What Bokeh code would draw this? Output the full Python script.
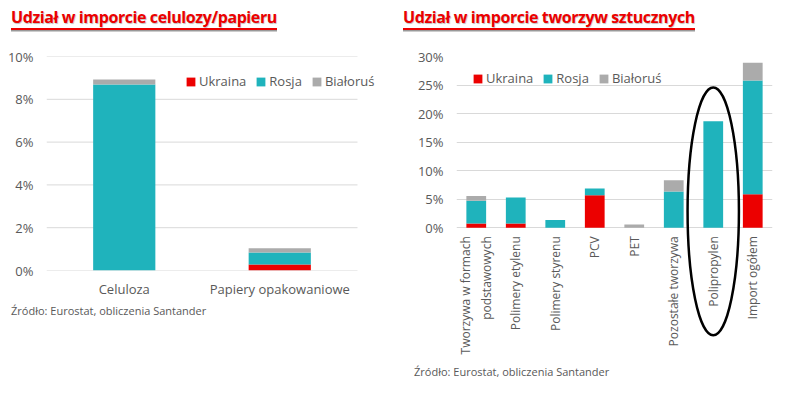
import math
from bokeh.plotting import figure
from bokeh.models import Range1d, FactorRange, FixedTicker, PrintfTickFormatter, Div
from bokeh.layouts import row, column
from bokeh.embed import file_html
from bokeh.resources import INLINE
from bokeh.core.properties import value

FONT = "Open Sans"
RED = "#EC0000"
TEAL = "#1FB3BC"
GRAY = "#ABABAB"
TXT = "#595959"
GRID = "#D9D9D9"

countries = ["Ukraina", "Rosja", "Białoruś"]
colors = [RED, TEAL, GRAY]

# ---- left panel: pulp / paper (share of imports, %) ----
paper_title = "Udział w imporcie celulozy/papieru"
paper_cats = ["Celuloza", "Papiery opakowaniowe"]
paper_ukraina = [0.0, 0.28]
paper_rosja = [8.69, 0.56]
paper_bialorus = [0.24, 0.20]
paper_ticks = [0, 2, 4, 6, 8, 10]

# ---- right panel: plastics (share of imports, %) ----
plastic_title = "Udział w imporcie tworzyw sztucznych"
plastic_cats = ["Tworzywa w formach podstawowych", "Polimery etylenu", "Polimery styrenu",
                "PCV", "PET", "Pozostałe tworzywa", "Polipropylen", "Import ogółem"]
plastic_labels = ["Tworzywa w formach\npodstawowych", "Polimery etylenu", "Polimery styrenu",
                  "PCV", "PET", "Pozostałe tworzywa", "Polipropylen", "Import ogółem"]
plastic_ukraina = [0.75, 0.75, 0.0, 5.70, 0.0, 0.0, 0.0, 5.85]
plastic_rosja = [3.95, 4.55, 1.35, 1.15, 0.0, 6.35, 18.65, 19.95]
plastic_bialorus = [0.85, 0.0, 0.0, 0.0, 0.55, 1.95, 0.0, 3.10]
plastic_ticks = [0, 5, 10, 15, 20, 25, 30]
highlight_cat = "Polipropylen"

source_text = "Źródło: Eurostat, obliczenia Santander"


def style_common(p, ticks):
    p.outline_line_color = None
    p.xgrid.visible = False
    p.yaxis.ticker = FixedTicker(ticks=ticks)
    p.yaxis.formatter = PrintfTickFormatter(format="%d%%")
    p.yaxis.axis_line_color = None
    p.yaxis.major_tick_line_color = None
    p.yaxis.minor_tick_line_color = None
    p.yaxis.major_tick_out = 0
    p.yaxis.major_tick_in = 0
    p.yaxis.major_label_text_font = FONT
    p.yaxis.major_label_text_font_size = "13px"
    p.yaxis.major_label_text_color = TXT
    p.yaxis.major_label_standoff = 13
    p.background_fill_color = "white"
    p.border_fill_color = "white"


def style_legend(p, loc):
    leg = p.legend[0]
    leg.location = loc
    leg.orientation = "horizontal"
    leg.background_fill_alpha = 0
    leg.border_line_color = None
    leg.label_text_font = FONT
    leg.label_text_font_size = "13px"
    leg.label_text_color = TXT
    leg.glyph_width = 11
    leg.glyph_height = 11
    leg.label_standoff = 3
    leg.spacing = 9
    leg.padding = 0
    leg.margin = 0


def title_div(text, left, top, width, height):
    html = ('<div style="position:absolute;left:%dpx;top:%dpx;'
            'font-family:\'Open Sans\';font-size:16px;line-height:16px;font-weight:700;'
            'letter-spacing:-0.4px;white-space:nowrap;color:%s;">'
            '<span style="border-bottom:2px solid %s;box-shadow:0 1.5px 0 #999999;'
            'text-shadow:0.6px 0.6px 0.8px rgba(0,0,0,0.25);">%s</span></div>'
            % (left, top, RED, RED, text))
    return Div(text=html, width=width, height=height, margin=0,
               styles={"position": "relative", "overflow": "visible"})


def source_div(left, top, width, height):
    html = ('<div style="position:absolute;left:%dpx;top:%dpx;font-family:\'Open Sans\';'
            'font-size:11px;line-height:14px;color:%s;white-space:nowrap;">%s</div>'
            % (left, top, TXT, source_text))
    return Div(text=html, width=width, height=height, margin=0,
               styles={"position": "relative", "overflow": "visible"})


# ---------------- left figure ----------------
# numeric x positions (one slot per category) so the frame can extend under the legend
paper_x = [i + 0.5 for i in range(len(paper_cats))]
slot_px = 155.5
frame_w1 = 329
left_w = 389
p1 = figure(x_range=Range1d(0, frame_w1 / slot_px), y_range=Range1d(0, 10),
            frame_width=frame_w1, frame_height=214,
            min_border_left=46, min_border_right=left_w - 46 - frame_w1, min_border_top=9,
            min_border_bottom=34,
            output_backend="svg", toolbar_location=None)
style_common(p1, paper_ticks)
p1.ygrid.visible = False
# gridlines limited to the category slots
p1.segment(x0=[0] * len(paper_ticks), x1=[len(paper_cats)] * len(paper_ticks),
           y0=paper_ticks, y1=paper_ticks, line_color=GRID, line_width=1)
src1 = dict(x=paper_x, Ukraina=paper_ukraina, Rosja=paper_rosja, **{"Białoruś": paper_bialorus})
p1.vbar_stack(countries, x="x", width=0.4, color=colors, line_color=None,
              source=src1, legend_label=countries)
p1.xaxis.ticker = FixedTicker(ticks=paper_x)
p1.xaxis.major_label_overrides = {x: c for x, c in zip(paper_x, paper_cats)}
p1.xaxis.axis_line_color = None
p1.xaxis.major_tick_line_color = None
p1.xaxis.minor_tick_line_color = None
p1.xaxis.major_tick_out = 0
p1.xaxis.major_tick_in = 0
p1.xaxis.major_label_text_font = FONT
p1.xaxis.major_label_text_font_size = "13px"
p1.xaxis.major_label_text_color = TXT
p1.xaxis.major_label_standoff = 9
style_legend(p1, (139, 180))

# ---------------- right figure ----------------
p2 = figure(x_range=FactorRange(*plastic_cats), y_range=Range1d(-23.8, 30),
            frame_width=316, frame_height=307, x_axis_location=None,
            min_border_left=67, min_border_right=13, min_border_top=9, min_border_bottom=0,
            output_backend="svg", toolbar_location=None)
style_common(p2, plastic_ticks)
p2.ygrid.grid_line_color = GRID
p2.ygrid.grid_line_width = 1
src2 = dict(cat=plastic_cats, Ukraina=plastic_ukraina, Rosja=plastic_rosja,
            **{"Białoruś": plastic_bialorus})
p2.vbar_stack(countries, x="cat", width=0.5, color=colors, line_color=None,
              source=src2, legend_label=countries)
p2.text(x=plastic_cats, y=[-1.5] * len(plastic_cats), text=plastic_labels,
        angle=math.pi / 2, text_align="right", text_baseline="middle",
        text_font=value(FONT), text_font_size="12px", text_color=TXT,
        text_line_height=1.25)
p2.ellipse(x=[highlight_cat], y=[2.86], width=1.3, height=43.4,
           fill_color=None, line_color="black", line_width=2.5)
style_legend(p2, (16, 276))

left = column(title_div(paper_title, 11, 9, left_w, 47), p1, source_div(11, 0, left_w, 20))
right = column(title_div(plastic_title, 14, 9, 396, 47), p2, source_div(25, 2, 396, 18))
layout = row(left, right)

open("out.html", "w").write(file_html(layout, INLINE))
